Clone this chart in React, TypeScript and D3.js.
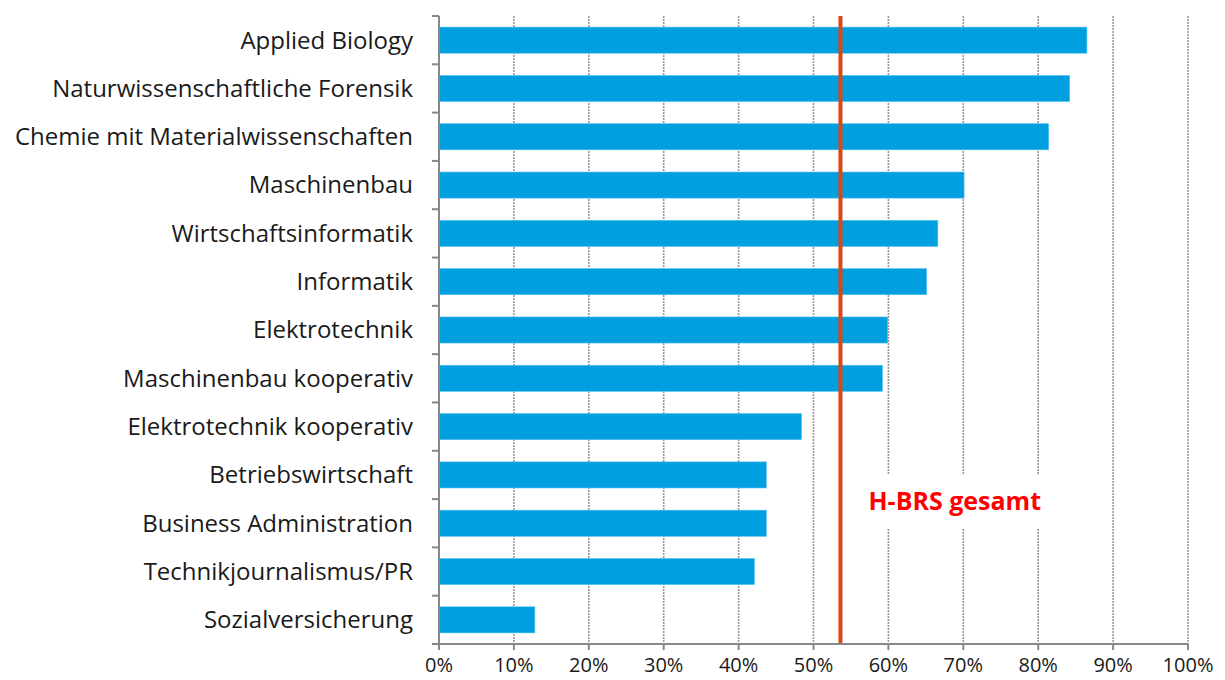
import React from 'react';
import * as d3 from 'd3';

const width = 1225;
const height = 680;
const margin = { top: 16, right: 37, bottom: 36, left: 439 };

const categories = [
  'Applied Biology',
  'Naturwissenschaftliche Forensik',
  'Chemie mit Materialwissenschaften',
  'Maschinenbau',
  'Wirtschaftsinformatik',
  'Informatik',
  'Elektrotechnik',
  'Maschinenbau kooperativ',
  'Elektrotechnik kooperativ',
  'Betriebswirtschaft',
  'Business Administration',
  'Technikjournalismus/PR',
  'Sozialversicherung',
];
const values = [86.5, 84.2, 81.4, 70.1, 66.6, 65.1, 59.9, 59.2, 48.4, 43.7, 43.7, 42.1, 12.8];
const totalValue = 53.6;
const totalLabel = 'H-BRS gesamt';
const xTicks = [0, 10, 20, 30, 40, 50, 60, 70, 80, 90, 100];

const font = "'Open Sans', 'Noto Sans', sans-serif";

export default function App() {
  const innerW = width - margin.left - margin.right;
  const innerH = height - margin.top - margin.bottom;

  const x = d3.scaleLinear().domain([0, 100]).range([0, innerW]);
  const y = d3.scaleBand().domain(categories).range([0, innerH]).paddingInner(0.46).paddingOuter(0.23);
  const bounds = d3.range(categories.length + 1).map(i => i * (innerH / categories.length));

  const lx = x(totalValue);

  return (
    <svg width={width} height={height} style={{ position: 'absolute', left: 0, top: 0, background: '#fff' }}>
      <g transform={`translate(${margin.left},${margin.top})`}>
        {/* grid */}
        {xTicks.slice(1).map(t => (
          <line key={'g' + t} x1={x(t)} x2={x(t)} y1={0} y2={innerH}
            stroke="#999" strokeWidth={1.6} strokeDasharray="2,1" />
        ))}
        {/* bars */}
        {categories.map((c, i) => (
          <rect key={c} x={0} y={y(c)} width={x(values[i])} height={y.bandwidth()}
            fill="#009fe0" stroke="#4fc1ee" strokeWidth={0.6} />
        ))}
        {/* label box */}
        <rect x={lx + 12} y={458} width={200} height={55} fill="#fff" />
        <text x={lx + 28} y={494} fill="#ff0000" fontFamily={font} fontWeight="bold" fontSize={25}>{totalLabel}</text>
        {/* total line */}
        <line x1={lx} x2={lx} y1={0} y2={innerH} stroke="#dc4610" strokeWidth={4} />
        {/* axes */}
        <line x1={0} x2={0} y1={0} y2={innerH} stroke="#888" strokeWidth={2} />
        <line x1={0} x2={innerW} y1={innerH} y2={innerH} stroke="#888" strokeWidth={2} />
        {bounds.map((b, i) => (
          <line key={'yt' + i} x1={-7} x2={0} y1={b} y2={b} stroke="#888" strokeWidth={2} />
        ))}
        {xTicks.map(t => (
          <g key={'xt' + t}>
            <line x1={x(t)} x2={x(t)} y1={innerH} y2={innerH + 6} stroke="#888" strokeWidth={2} />
            <text x={x(t)} y={innerH + 28} textAnchor="middle" fontFamily={font} fontSize={20} fill="#1a1a1a">{t}%</text>
          </g>
        ))}
        {categories.map(c => (
          <text key={'l' + c} x={-26} y={(y(c) ?? 0) + y.bandwidth() / 2} dy="0.35em" textAnchor="end"
            fontFamily={font} fontSize={24} fill="#1a1a1a">{c}</text>
        ))}
      </g>
    </svg>
  );
}
